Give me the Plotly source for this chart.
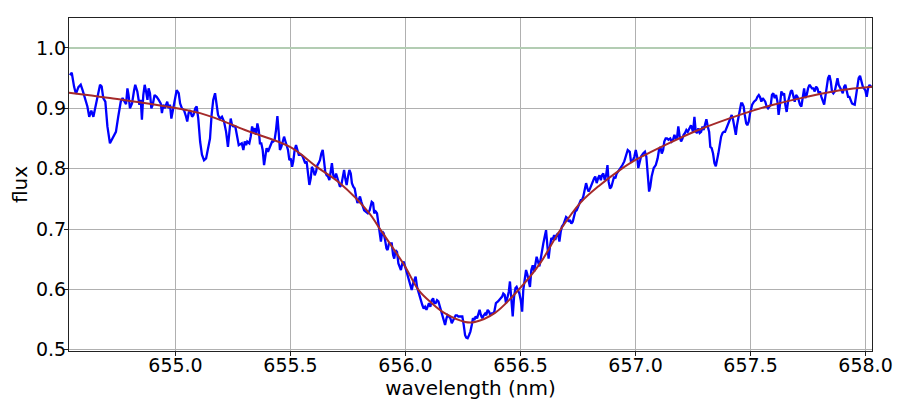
import plotly.graph_objects as go

wavelength = [
    654.541, 654.549, 654.559, 654.567, 654.578, 654.588, 654.596, 654.607, 654.617, 654.625,
    654.634, 654.643, 654.651, 654.660, 654.672, 654.679, 654.686, 654.695, 654.704, 654.715,
    654.730, 654.741, 654.751, 654.762, 654.770, 654.779, 654.785, 654.791, 654.796, 654.802,
    654.811, 654.820, 654.825, 654.834, 654.843, 654.849, 654.854, 654.860, 654.866, 654.872,
    654.878, 654.883, 654.889, 654.895, 654.901, 654.909, 654.918, 654.927, 654.936, 654.941,
    654.947, 654.953, 654.959, 654.964, 654.970, 654.976, 654.982, 654.991, 654.999, 655.005,
    655.014, 655.020, 655.028, 655.037, 655.046, 655.051, 655.057, 655.063, 655.072, 655.078,
    655.086, 655.092, 655.099, 655.107, 655.115, 655.124, 655.133, 655.143, 655.150, 655.157,
    655.164, 655.172, 655.179, 655.185, 655.193, 655.202, 655.211, 655.220, 655.228, 655.234,
    655.240, 655.246, 655.251, 655.260, 655.266, 655.275, 655.288, 655.295, 655.301, 655.307,
    655.312, 655.321, 655.327, 655.333, 655.338, 655.344, 655.350, 655.356, 655.362, 655.367,
    655.373, 655.379, 655.385, 655.391, 655.396, 655.402, 655.408, 655.414, 655.420, 655.425,
    655.431, 655.437, 655.443, 655.449, 655.454, 655.460, 655.466, 655.472, 655.478, 655.483,
    655.489, 655.495, 655.501, 655.507, 655.512, 655.518, 655.524, 655.530, 655.536, 655.541,
    655.547, 655.553, 655.559, 655.564, 655.570, 655.576, 655.582, 655.588, 655.593, 655.599,
    655.605, 655.611, 655.617, 655.622, 655.628, 655.634, 655.640, 655.646, 655.651, 655.657,
    655.663, 655.669, 655.675, 655.680, 655.686, 655.692, 655.698, 655.704, 655.709, 655.715,
    655.721, 655.727, 655.733, 655.738, 655.744, 655.750, 655.756, 655.762, 655.767, 655.773,
    655.779, 655.785, 655.791, 655.796, 655.802, 655.808, 655.814, 655.820, 655.836, 655.844,
    655.853, 655.859, 655.864, 655.870, 655.876, 655.882, 655.888, 655.893, 655.899, 655.905,
    655.911, 655.917, 655.922, 655.928, 655.934, 655.940, 655.946, 655.951, 655.957, 655.963,
    655.969, 655.975, 655.980, 655.986, 655.992, 655.998, 656.004, 656.009, 656.015, 656.021,
    656.027, 656.033, 656.038, 656.044, 656.050, 656.056, 656.062, 656.067, 656.073, 656.079,
    656.085, 656.091, 656.096, 656.102, 656.108, 656.114, 656.120, 656.125, 656.131, 656.137,
    656.143, 656.149, 656.154, 656.160, 656.166, 656.172, 656.178, 656.183, 656.189, 656.195,
    656.201, 656.207, 656.212, 656.218, 656.224, 656.230, 656.236, 656.241, 656.247, 656.253,
    656.259, 656.264, 656.270, 656.276, 656.282, 656.288, 656.293, 656.299, 656.305, 656.311,
    656.317, 656.322, 656.328, 656.334, 656.340, 656.346, 656.351, 656.357, 656.363, 656.369,
    656.375, 656.380, 656.386, 656.393, 656.402, 656.411, 656.420, 656.425, 656.431, 656.437,
    656.443, 656.449, 656.454, 656.460, 656.466, 656.472, 656.478, 656.483, 656.489, 656.495,
    656.501, 656.507, 656.512, 656.518, 656.524, 656.530, 656.536, 656.541, 656.547, 656.553,
    656.559, 656.564, 656.570, 656.576, 656.582, 656.588, 656.593, 656.599, 656.605, 656.611,
    656.617, 656.622, 656.628, 656.634, 656.640, 656.646, 656.651, 656.657, 656.663, 656.669,
    656.675, 656.680, 656.686, 656.692, 656.698, 656.704, 656.709, 656.715, 656.721, 656.727,
    656.733, 656.738, 656.744, 656.750, 656.756, 656.762, 656.767, 656.773, 656.779, 656.785,
    656.791, 656.796, 656.802, 656.808, 656.814, 656.820, 656.825, 656.831, 656.837, 656.843,
    656.849, 656.854, 656.860, 656.866, 656.872, 656.878, 656.883, 656.889, 656.895, 656.901,
    656.907, 656.912, 656.918, 656.924, 656.930, 656.943, 656.951, 656.957, 656.966, 656.975,
    656.980, 656.989, 656.995, 657.001, 657.007, 657.012, 657.018, 657.024, 657.033, 657.041,
    657.047, 657.053, 657.059, 657.064, 657.070, 657.079, 657.088, 657.096, 657.102, 657.108,
    657.114, 657.120, 657.125, 657.131, 657.137, 657.143, 657.151, 657.157, 657.163, 657.169,
    657.175, 657.180, 657.186, 657.192, 657.198, 657.204, 657.209, 657.215, 657.221, 657.227,
    657.233, 657.241, 657.250, 657.256, 657.262, 657.267, 657.273, 657.279, 657.285, 657.291,
    657.296, 657.302, 657.308, 657.314, 657.320, 657.325, 657.331, 657.337, 657.343, 657.349,
    657.354, 657.360, 657.366, 657.372, 657.378, 657.383, 657.389, 657.395, 657.401, 657.407,
    657.412, 657.418, 657.424, 657.430, 657.436, 657.441, 657.447, 657.453, 657.459, 657.464,
    657.470, 657.475, 657.481, 657.486, 657.492, 657.498, 657.507, 657.515, 657.524, 657.530,
    657.536, 657.541, 657.547, 657.553, 657.559, 657.564, 657.570, 657.576, 657.582, 657.588,
    657.593, 657.599, 657.605, 657.611, 657.617, 657.622, 657.628, 657.634, 657.640, 657.646,
    657.651, 657.657, 657.663, 657.669, 657.675, 657.680, 657.686, 657.692, 657.698, 657.704,
    657.709, 657.715, 657.721, 657.727, 657.733, 657.738, 657.744, 657.750, 657.756, 657.762,
    657.767, 657.773, 657.779, 657.785, 657.791, 657.796, 657.802, 657.808, 657.814, 657.820,
    657.825, 657.831, 657.837, 657.843, 657.849, 657.854, 657.860, 657.866, 657.872, 657.878,
    657.883, 657.889, 657.895, 657.901, 657.907, 657.912, 657.918, 657.924, 657.930, 657.936,
    657.941, 657.947, 657.953, 657.959, 657.964, 657.970, 657.976, 657.982, 657.988, 657.993,
    657.999, 658.005, 658.011, 658.017, 658.022, 658.028,
]
flux = [
    0.955, 0.959, 0.936, 0.924, 0.935, 0.939, 0.930, 0.914, 0.903, 0.886,
    0.896, 0.886, 0.902, 0.919, 0.939, 0.936, 0.917, 0.911, 0.870, 0.842,
    0.853, 0.861, 0.886, 0.911, 0.917, 0.911, 0.907, 0.933, 0.922, 0.900,
    0.908, 0.930, 0.939, 0.928, 0.906, 0.914, 0.881, 0.922, 0.939, 0.928,
    0.914, 0.933, 0.925, 0.900, 0.906, 0.922, 0.919, 0.914, 0.908, 0.892,
    0.906, 0.900, 0.906, 0.911, 0.900, 0.906, 0.883, 0.900, 0.919, 0.930,
    0.925, 0.908, 0.900, 0.897, 0.886, 0.878, 0.892, 0.897, 0.886, 0.889,
    0.900, 0.903, 0.883, 0.845, 0.823, 0.814, 0.817, 0.834, 0.850, 0.889,
    0.914, 0.925, 0.908, 0.889, 0.883, 0.886, 0.878, 0.861, 0.836, 0.861,
    0.883, 0.872, 0.870, 0.870, 0.856, 0.839, 0.842, 0.831, 0.845, 0.839,
    0.845, 0.842, 0.853, 0.870, 0.861, 0.867, 0.856, 0.875, 0.864, 0.842,
    0.842, 0.831, 0.806, 0.820, 0.834, 0.828, 0.834, 0.842, 0.845, 0.845,
    0.848, 0.864, 0.887, 0.859, 0.831, 0.836, 0.845, 0.853, 0.845, 0.836,
    0.831, 0.814, 0.817, 0.803, 0.812, 0.831, 0.839, 0.831, 0.823, 0.823,
    0.823, 0.820, 0.812, 0.809, 0.812, 0.795, 0.773, 0.784, 0.803, 0.798,
    0.789, 0.795, 0.806, 0.809, 0.814, 0.825, 0.831, 0.812, 0.795, 0.789,
    0.787, 0.781, 0.795, 0.809, 0.789, 0.784, 0.792, 0.784, 0.778, 0.770,
    0.773, 0.787, 0.798, 0.784, 0.773, 0.787, 0.798, 0.792, 0.776, 0.770,
    0.767, 0.754, 0.743, 0.748, 0.754, 0.745, 0.737, 0.731, 0.726, 0.731,
    0.745, 0.743, 0.726, 0.729, 0.726, 0.707, 0.693, 0.679, 0.696, 0.693,
    0.682, 0.668, 0.665, 0.676, 0.676, 0.676, 0.657, 0.651, 0.665, 0.662,
    0.643, 0.635, 0.632, 0.643, 0.646, 0.638, 0.629, 0.624, 0.615, 0.604,
    0.599, 0.610, 0.615, 0.621, 0.604, 0.596, 0.585, 0.582, 0.574, 0.568,
    0.571, 0.566, 0.571, 0.577, 0.571, 0.582, 0.585, 0.577, 0.577, 0.582,
    0.580, 0.571, 0.566, 0.557, 0.546, 0.541, 0.552, 0.557, 0.555, 0.552,
    0.544, 0.549, 0.552, 0.557, 0.557, 0.555, 0.555, 0.555, 0.555, 0.541,
    0.524, 0.520, 0.519, 0.524, 0.530, 0.541, 0.552, 0.549, 0.555, 0.552,
    0.560, 0.566, 0.557, 0.552, 0.557, 0.560, 0.557, 0.566, 0.563, 0.557,
    0.560, 0.560, 0.563, 0.577, 0.580, 0.585, 0.588, 0.593, 0.591, 0.577,
    0.585, 0.596, 0.613, 0.588, 0.555, 0.588, 0.602, 0.604, 0.599, 0.593,
    0.582, 0.563, 0.599, 0.621, 0.632, 0.624, 0.613, 0.604, 0.632, 0.640,
    0.629, 0.643, 0.654, 0.646, 0.638, 0.651, 0.665, 0.676, 0.687, 0.698,
    0.671, 0.651, 0.671, 0.685, 0.682, 0.690, 0.682, 0.690, 0.693, 0.679,
    0.696, 0.704, 0.707, 0.715, 0.720, 0.718, 0.712, 0.715, 0.709, 0.712,
    0.723, 0.729, 0.731, 0.737, 0.740, 0.748, 0.748, 0.754, 0.765, 0.776,
    0.767, 0.762, 0.767, 0.773, 0.781, 0.784, 0.787, 0.776, 0.784, 0.789,
    0.781, 0.789, 0.792, 0.781, 0.789, 0.806, 0.778, 0.767, 0.770, 0.781,
    0.787, 0.784, 0.792, 0.795, 0.798, 0.806, 0.812, 0.820, 0.831, 0.828,
    0.812, 0.814, 0.820, 0.831, 0.820, 0.801, 0.809, 0.820, 0.825, 0.828,
    0.820, 0.795, 0.762, 0.770, 0.787, 0.801, 0.806, 0.817, 0.831, 0.836,
    0.825, 0.831, 0.845, 0.850, 0.850, 0.848, 0.850, 0.845, 0.848, 0.856,
    0.850, 0.850, 0.870, 0.853, 0.845, 0.850, 0.856, 0.859, 0.864, 0.861,
    0.867, 0.872, 0.861, 0.886, 0.861, 0.859, 0.867, 0.859, 0.861, 0.870,
    0.864, 0.875, 0.882, 0.870, 0.861, 0.836, 0.834, 0.825, 0.809, 0.804,
    0.812, 0.825, 0.839, 0.853, 0.859, 0.861, 0.861, 0.867, 0.872, 0.881,
    0.886, 0.889, 0.881, 0.867, 0.856, 0.872, 0.886, 0.897, 0.908, 0.908,
    0.903, 0.889, 0.875, 0.872, 0.878, 0.892, 0.906, 0.911, 0.914, 0.919,
    0.922, 0.919, 0.911, 0.917, 0.914, 0.911, 0.903, 0.900, 0.903, 0.906,
    0.922, 0.925, 0.917, 0.922, 0.911, 0.889, 0.906, 0.928, 0.922, 0.925,
    0.906, 0.894, 0.911, 0.922, 0.928, 0.930, 0.917, 0.911, 0.922, 0.919,
    0.914, 0.906, 0.903, 0.922, 0.933, 0.917, 0.922, 0.933, 0.939, 0.936,
    0.933, 0.933, 0.928, 0.936, 0.933, 0.925, 0.928, 0.919, 0.914, 0.906,
    0.919, 0.939, 0.950, 0.955, 0.944, 0.928, 0.925, 0.928, 0.939, 0.950,
    0.939, 0.933, 0.930, 0.925, 0.936, 0.939, 0.928, 0.919, 0.919, 0.911,
    0.908, 0.907, 0.906, 0.922, 0.939, 0.950, 0.954, 0.944, 0.936, 0.933,
    0.930, 0.919, 0.933, 0.939, 0.936, 0.936,
]

# fitted line profile
fit_wavelength = [
    654.537, 654.715, 655.107, 655.302, 655.498, 655.614, 655.715, 655.843, 655.882, 655.998,
    656.056, 656.114, 656.172, 656.259, 656.302, 656.389, 656.498, 656.585, 656.672, 656.759,
    656.846, 656.933, 656.998, 657.128, 657.273, 657.476, 657.599, 657.744, 657.889, 658.034,
]
fit_flux = [
    0.926, 0.917, 0.892, 0.864, 0.836, 0.803, 0.776, 0.726, 0.704, 0.638,
    0.599, 0.577, 0.560, 0.546, 0.546, 0.561, 0.602, 0.643, 0.698, 0.743,
    0.773, 0.798, 0.814, 0.839, 0.864, 0.892, 0.906, 0.919, 0.930, 0.936,
]

continuum = 1.0
x_range = [654.537, 658.028]
y_range = [0.4978, 1.0497]

fig = go.Figure()

fig.add_trace(go.Scatter(
    x=x_range, y=[continuum, continuum], mode="lines",
    line=dict(color="#b3cdb3", width=2), hoverinfo="skip",
))
fig.add_trace(go.Scatter(
    x=wavelength, y=flux, mode="lines",
    line=dict(color="#0000ff", width=2.3),
))
fig.add_trace(go.Scatter(
    x=fit_wavelength, y=fit_flux, mode="lines",
    line=dict(color="#a52a2a", width=2, shape="spline"),
))

axis_common = dict(
    showgrid=True, gridcolor="#b0b0b0", gridwidth=1,
    showline=True, linecolor="#222222", linewidth=1, mirror=True,
    ticks="outside", ticklen=4, tickcolor="#222222", tickwidth=1,
    zeroline=False, automargin=False,
    tickfont=dict(family="DejaVu Sans", size=19, color="black"),
)

# the page body adds an 8px offset, so the figure is a bit smaller than the window
fig.update_layout(
    width=907, height=396,
    margin=dict(l=61, r=43, t=10, b=53),
    paper_bgcolor="white", plot_bgcolor="white",
    showlegend=False,
    font=dict(family="DejaVu Sans", color="black"),
    xaxis=dict(
        range=x_range, tick0=655.0, dtick=0.5, tickformat=".1f",
        ticklabelstandoff=-7,
        title=dict(text="wavelength (nm)", font=dict(size=20), standoff=4),
        **axis_common,
    ),
    yaxis=dict(
        range=y_range, tick0=0.5, dtick=0.1, tickformat=".1f",
        ticklabelstandoff=-6,
        title=dict(text="flux", font=dict(size=20)),
        **axis_common,
    ),
    # nudge the y title a little further left, as in the reference
)
fig.update_yaxes(title_standoff=None)
fig.layout.yaxis.title.standoff = 14

fig.write_html("out.html")
